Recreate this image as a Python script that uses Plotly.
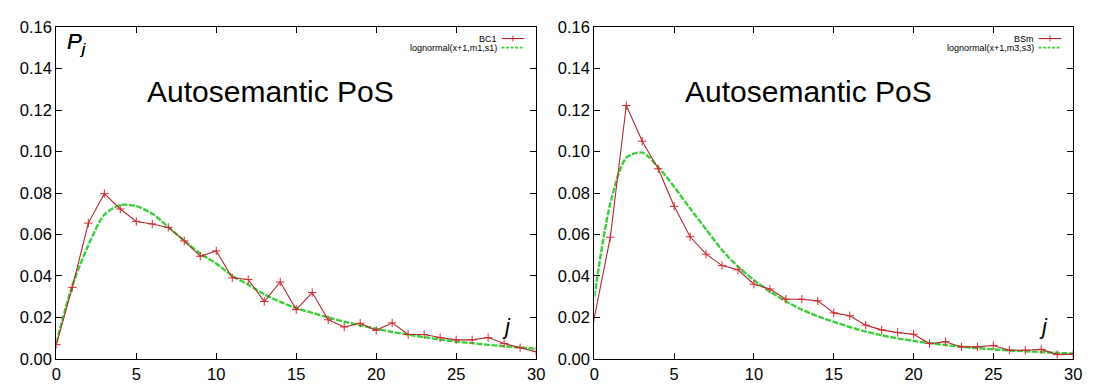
import plotly.graph_objects as go

# position index j
j = list(range(31))

# BC1: observed P_j and its lognormal fit
bc1 = [0.0069, 0.0345, 0.0655, 0.0797, 0.0723, 0.0663, 0.0651, 0.0634, 0.0569, 0.0495,
       0.0521, 0.0391, 0.0383, 0.0277, 0.0371, 0.0238, 0.0320, 0.0189, 0.0154, 0.0172,
       0.0138, 0.0174, 0.0118, 0.0118, 0.0103, 0.0092, 0.0092, 0.0103, 0.0074, 0.0054,
       0.0035]
bc1_fit = [0.0077, 0.0354, 0.0548, 0.0695, 0.0742, 0.0737, 0.0700, 0.0636, 0.0570, 0.0508,
           0.0460, 0.0401, 0.0358, 0.0312, 0.0275, 0.0245, 0.0222, 0.0200, 0.0180, 0.0162,
           0.0145, 0.0130, 0.0117, 0.0105, 0.0094, 0.0084, 0.0076, 0.0068, 0.0061, 0.0055,
           0.0049]

# BSm: observed P_j and its lognormal fit
bsm = [0.0200, 0.0587, 0.1222, 0.1050, 0.0917, 0.0736, 0.0589, 0.0505, 0.0450, 0.0430,
       0.0360, 0.0337, 0.0288, 0.0288, 0.0280, 0.0222, 0.0208, 0.0163, 0.0140, 0.0127,
       0.0119, 0.0074, 0.0083, 0.0058, 0.0058, 0.0065, 0.0042, 0.0042, 0.0046, 0.0021,
       0.0023]
bsm_fit = [0.0300, 0.0750, 0.0970, 0.0995, 0.0925, 0.0830, 0.0725, 0.0625, 0.0525, 0.0445,
           0.0380, 0.0325, 0.0278, 0.0238, 0.0206, 0.0179, 0.0154, 0.0132, 0.0114, 0.0099,
           0.0087, 0.0076, 0.0067, 0.0059, 0.0052, 0.0046, 0.0041, 0.0037, 0.0033, 0.0029,
           0.0026]

series_names = ["BC1", "BSm"]
fit_names = ["lognormal(x+1,m1,s1)", "lognormal(x+1,m3,s3)"]
panel_title = "Autosemantic PoS"
x_ticks = [0, 5, 10, 15, 20, 25, 30]
y_ticks = [0.00, 0.02, 0.04, 0.06, 0.08, 0.10, 0.12, 0.14, 0.16]

W, H = 1095, 387
RED_LINE = "#b0282e"
RED_MARK = "#d42a30"
GREEN = "#3ccf3c"
FONT = "Liberation Sans, Arial, Helvetica, sans-serif"

# panel frames in pixels (left, right), shared top/bottom
panels = [(52, 538), (597, 1082)]
top_px, bot_px = 19, 367

fig = go.Figure()

for k, (obs, fit) in enumerate([(bc1, bc1_fit), (bsm, bsm_fit)]):
    xa = "x" if k == 0 else f"x{k+1}"
    ya = "y" if k == 0 else f"y{k+1}"
    fig.add_trace(go.Scatter(
        x=j, y=fit, mode="lines", xaxis=xa, yaxis=ya, showlegend=False,
        line=dict(color=GREEN, width=2.4, dash="6px,1.5px", shape="spline", smoothing=0.8),
    ))
    fig.add_trace(go.Scatter(
        x=j, y=obs, mode="lines+markers", xaxis=xa, yaxis=ya, showlegend=False,
        line=dict(color=RED_LINE, width=1.1),
        marker=dict(symbol="cross-thin", size=6, line=dict(color=RED_MARK, width=1)),
    ))

axis_common = dict(
    showline=True, linecolor="black", linewidth=1.2, mirror="ticks",
    ticks="inside", ticklen=6, tickwidth=1, tickcolor="black",
    showgrid=False, zeroline=False,
    tickfont=dict(family=FONT, size=16.5, color="black"),
)

layout = dict(
    width=W, height=H,
    margin=dict(l=0, r=0, t=0, b=0),
    paper_bgcolor="white", plot_bgcolor="white",
    showlegend=False,
)
ydom = [(H - bot_px) / H, (H - top_px) / H]
shapes, annotations = [], []
for k, (lpx, rpx) in enumerate(panels):
    sx = "" if k == 0 else str(k + 1)
    layout[f"xaxis{sx}"] = dict(
        axis_common, domain=[lpx / W, rpx / W], range=[0, 30],
        tickvals=x_ticks, anchor=f"y{sx}",
    )
    layout[f"yaxis{sx}"] = dict(
        axis_common, domain=ydom, range=[0, 0.16],
        tickvals=y_ticks, tickformat=".2f", anchor=f"x{sx}",
    )
    xd, yd = f"x{sx} domain", f"y{sx} domain"
    pw = rpx - lpx
    ph = bot_px - top_px

    def fx(px):
        return (px - lpx) / pw

    def fy(py):
        return (bot_px - py) / ph

    # in-plot labels
    annotations.append(dict(
        xref=xd, yref=yd, x=0.447, y=fy(86), text=panel_title, showarrow=False,
        xanchor="center", yanchor="middle",
        font=dict(family=FONT, size=30, color="black"),
    ))
    annotations.append(dict(
        xref=xd, yref=yd, x=fx(61), y=fy(19), text="<i>P</i><sub><i>j</i></sub>",
        showarrow=False, xanchor="left", yanchor="top",
        font=dict(family=FONT, size=22, color="black"),
    ))
    annotations.append(dict(
        xref=xd, yref=yd, x=fx(rpx - 30), y=fy(333), text="<i>j</i>",
        showarrow=False, xanchor="center", yanchor="middle",
        font=dict(family=FONT, size=22, color="black"),
    ))

    # key in the upper-right corner
    rows = [(series_names[k], 31), (fit_names[k], 40.5)]
    s0, s1 = rpx - 35, rpx - 12
    for i, (txt, py) in enumerate(rows):
        annotations.append(dict(
            xref=xd, yref=yd, x=fx(s0 - 3), y=fy(py), text=txt, showarrow=False,
            xanchor="right", yanchor="middle",
            font=dict(family=FONT, size=9, color="black"),
        ))
        if i == 0:
            shapes.append(dict(type="line", xref=xd, yref=yd,
                               x0=fx(s0), x1=fx(s1), y0=fy(py), y1=fy(py),
                               line=dict(color=RED_LINE, width=1.1)))
            cx = (s0 + s1) / 2
            shapes.append(dict(type="line", xref=xd, yref=yd,
                               x0=fx(cx), x1=fx(cx), y0=fy(py - 3), y1=fy(py + 3),
                               line=dict(color=RED_MARK, width=1)))
        else:
            shapes.append(dict(type="line", xref=xd, yref=yd,
                               x0=fx(s0), x1=fx(s1), y0=fy(py), y1=fy(py),
                               line=dict(color=GREEN, width=1.8, dash="3px,1.5px")))

layout["shapes"] = shapes
layout["annotations"] = annotations
fig.update_layout(**layout)

fig.write_html("out.html")
